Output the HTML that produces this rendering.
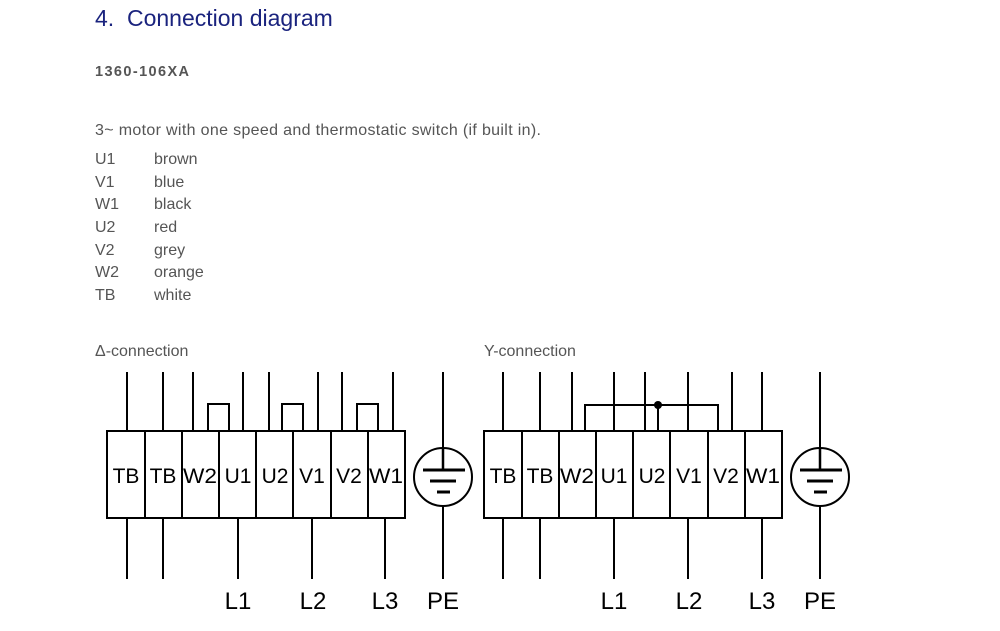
<!DOCTYPE html>
<html><head><meta charset="utf-8"><style>
html,body{margin:0;padding:0;background:#fff;}
svg{display:block;}
text{font-family:"Liberation Sans",Arial,sans-serif;}
</style></head><body>
<svg width="1000" height="631" viewBox="0 0 1000 631" xmlns="http://www.w3.org/2000/svg">
<text x="95" y="26" font-size="23" fill="#1a237e" xml:space="preserve">4.  Connection diagram</text>
<text x="95" y="76" font-size="14.5" font-weight="bold" fill="#555" textLength="94" lengthAdjust="spacing">1360-106XA</text>
<text x="95" y="135" font-size="16" fill="#555" textLength="446" lengthAdjust="spacing">3~ motor with one speed and thermostatic switch (if built in).</text>
<g font-size="16" fill="#555">
<text x="95" y="164">U1</text><text x="154" y="164">brown</text>
<text x="95" y="187">V1</text><text x="154" y="187">blue</text>
<text x="95" y="209">W1</text><text x="154" y="209">black</text>
<text x="95" y="232">U2</text><text x="154" y="232">red</text>
<text x="95" y="255">V2</text><text x="154" y="255">grey</text>
<text x="95" y="277">W2</text><text x="154" y="277">orange</text>
<text x="95" y="300">TB</text><text x="154" y="300">white</text>
<text x="95" y="356">Δ-connection</text>
<text x="484" y="356">Y-connection</text>
</g>
<g stroke="#000" stroke-width="2" fill="none">
<rect x="107" y="431" width="298" height="87"/>
<path d="M145 431V518M182 431V518M219 431V518M256 431V518M293 431V518M331 431V518M368 431V518"/>
<path d="M127 372V431M163 372V431M193 372V431M243 372V431M269 372V431M318 372V431M342 372V431M393 372V431"/>
<path d="M208 431V404H229V431M282 431V404H303V431M357 431V404H378V431"/>
<path d="M127 518V579M163 518V579M238 518V579M312 518V579M385 518V579"/>
<path d="M443 372V448M443 506V579"/>
<circle cx="443" cy="477" r="29"/>
<path d="M443 448V470" stroke-width="2.5"/>
<path d="M423 470H465M430 481H456M437 492H450" stroke-width="3"/>
<rect x="484" y="431" width="298" height="87"/>
<path d="M522 431V518M559 431V518M596 431V518M633 431V518M670 431V518M708 431V518M745 431V518"/>
<path d="M503 372V431M540 372V431M572 372V431M614 372V431M645 372V431M688 372V431M732 372V431M762 372V431"/>
<path d="M585 431V405H718V431M658 405V431"/>
<path d="M503 518V579M540 518V579M614 518V579M688 518V579M762 518V579"/>
<path d="M820 372V448M820 506V579"/>
<circle cx="820" cy="477" r="29"/>
<path d="M820 448V470" stroke-width="2.5"/>
<path d="M800 470H842M807 481H833M814 492H827" stroke-width="3"/>
</g>
<circle cx="658" cy="405" r="4" fill="#000"/>
<g font-size="21" fill="#000" text-anchor="middle">
<text x="126" y="483">TB</text><text x="163" y="483">TB</text><text x="200" y="483" textLength="34" lengthAdjust="spacingAndGlyphs">W2</text><text x="238" y="483">U1</text>
<text x="275" y="483">U2</text><text x="312" y="483">V1</text><text x="349" y="483">V2</text><text x="386" y="483" textLength="34" lengthAdjust="spacingAndGlyphs">W1</text>
<text x="503" y="483">TB</text><text x="540" y="483">TB</text><text x="577" y="483" textLength="34" lengthAdjust="spacingAndGlyphs">W2</text><text x="614" y="483">U1</text>
<text x="652" y="483">U2</text><text x="689" y="483">V1</text><text x="726" y="483">V2</text><text x="763" y="483" textLength="34" lengthAdjust="spacingAndGlyphs">W1</text>
</g>
<g font-size="24" fill="#000" text-anchor="middle">
<text x="238" y="609">L1</text><text x="313" y="609">L2</text><text x="385" y="609">L3</text><text x="443" y="609">PE</text>
<text x="614" y="609">L1</text><text x="689" y="609">L2</text><text x="762" y="609">L3</text><text x="820" y="609">PE</text>
</g>
</svg>
</body></html>
